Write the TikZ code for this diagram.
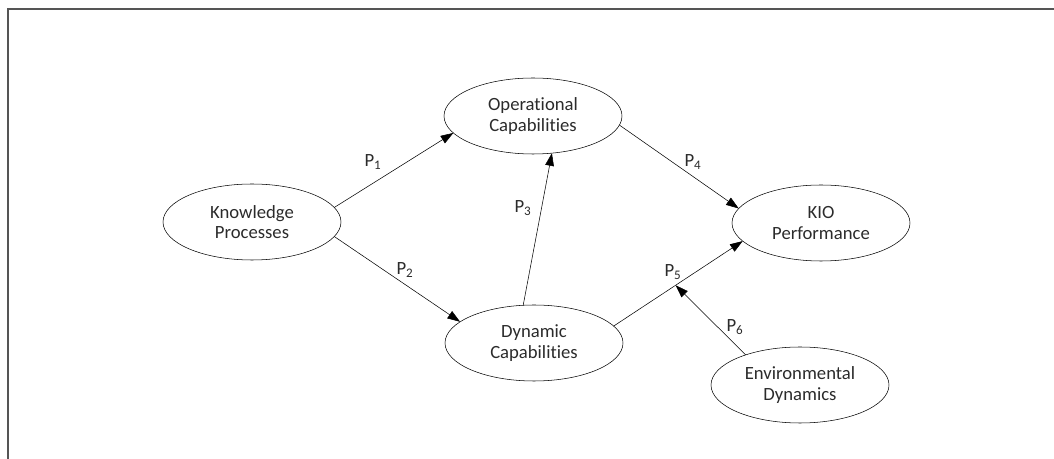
\documentclass[tikz,border=0pt]{standalone}
\usepackage{fontspec}
\setmainfont{Carlito}[Ligatures={NoCommon, NoContextual}]
\usepackage{tikz}
\usetikzlibrary{positioning, arrows.meta, shapes.geometric}
\definecolor{Frame_Gray}{HTML}{555555}
\definecolor{Text_Dark}{HTML}{2B2B2B}

\begin{document}
\begin{tikzpicture}[
  x=0.75pt, y=-0.75pt,
  every node/.style={font=\fontsize{14}{15.5}\selectfont, text=Text_Dark, inner sep=0pt, outer sep=0pt},
  cnode/.style={draw, thin, ellipse, minimum width=133.5pt, minimum height=57pt, align=center},
  plabel/.style={font=\fontsize{14}{15}\selectfont},
  arr/.style={-{Triangle[length=9.5pt, width=6.5pt]}, thin, black},
  frame/.style={Frame_Gray, line width=1.2pt}
]
  \useasboundingbox (0,0) rectangle (1054,459);
  % Frame
  \draw[frame] (8,459) -- (8,9) -- (1054,9);

  % Constructs
  \node[cnode] (kp) at (252,222) {Knowledge\\Processes};
  \node[cnode] (oc) at (533,116) {Operational\\Capabilities};
  \node[cnode] (dc) at (534,343) {Dynamic\\Capabilities};
  \node[cnode] (kio) at (821,223) {KIO\\Performance};
  \node[cnode] (ed) at (800,385) {Environmental\\Dynamics};

  % Propositions
  \draw[arr] (kp.10) -- (oc.192);
  \draw[arr] (kp.-10) -- (dc.164);
  \draw[arr] (dc.106) -- (oc.297);
  \draw[arr] (oc.-6) -- (kio.170);
  \draw[arr] (dc.12) -- coordinate[pos=0.48] (mod) (kio.193);
  % Moderation -> P5 path
  \draw[arr] (ed.151) -- (mod);

  % Labels
  \node[plabel] (p1) at (373,162) {P\textsubscript{1}};
  \node[plabel] (p2) at (405,270) {P\textsubscript{2}};
  \node[plabel] (p3) at (523,208) {P\textsubscript{3}};
  \node[plabel] (p4) at (693,162) {P\textsubscript{4}};
  \node[plabel] (p5) at (673,272) {P\textsubscript{5}};
  \node[plabel] (p6) at (735,327) {P\textsubscript{6}};
\end{tikzpicture}
\end{document}
